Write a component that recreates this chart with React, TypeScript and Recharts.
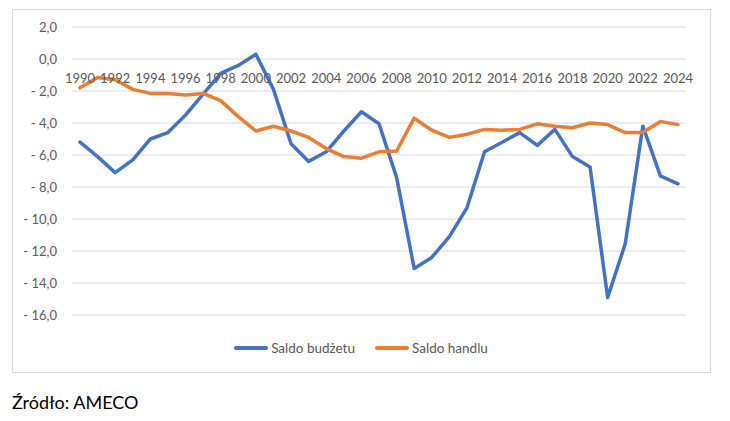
import React from 'react';
import { LineChart, Line, XAxis, YAxis, CartesianGrid } from 'recharts';

const years = [
  1990, 1991, 1992, 1993, 1994, 1995, 1996, 1997, 1998, 1999,
  2000, 2001, 2002, 2003, 2004, 2005, 2006, 2007, 2008, 2009,
  2010, 2011, 2012, 2013, 2014, 2015, 2016, 2017, 2018, 2019,
  2020, 2021, 2022, 2023, 2024,
];

const saldoBudzetu = [
  -5.2, -6.1, -7.1, -6.3, -5.0, -4.6, -3.5, -2.2, -0.9, -0.4,
  0.3, -1.9, -5.3, -6.4, -5.8, -4.5, -3.3, -4.05, -7.4, -13.1,
  -12.4, -11.1, -9.3, -5.8, -5.2, -4.6, -5.4, -4.4, -6.1, -6.75,
  -14.9, -11.55, -4.2, -7.3, -7.8,
];

const saldoHandlu = [
  -1.8, -1.15, -1.3, -1.9, -2.15, -2.15, -2.25, -2.15, -2.6, -3.6,
  -4.5, -4.2, -4.5, -4.9, -5.6, -6.1, -6.2, -5.8, -5.75, -3.7,
  -4.45, -4.9, -4.7, -4.4, -4.45, -4.4, -4.05, -4.2, -4.3, -4.0,
  -4.1, -4.6, -4.6, -3.9, -4.1,
];

const yTicks = [2, 0, -2, -4, -6, -8, -10, -12, -14, -16];

const seriesNames = ['Saldo budżetu', 'Saldo handlu'];
const seriesColors = ['#4472C4', '#ED7D31'];
const seriesKeys = ['budzet', 'handel'];

const data = years.map((y, i) => ({
  year: String(y),
  budzet: saldoBudzetu[i],
  handel: saldoHandlu[i],
}));

const FONT = 'Lato, "Liberation Sans", sans-serif';
const TEXT = '#595959';

const formatY = (v: number) => {
  const s = Math.abs(v).toFixed(1).replace('.', ',');
  return v < 0 ? '- ' + s : s;
};

const renderYearTick = (props: any) => {
  const { x, y, payload } = props;
  return (
    <text x={x} y={y + 51} dy="0.355em" textAnchor="middle" fill={TEXT} fontSize={13} fontFamily={FONT}>
      {payload.value}
    </text>
  );
};

export default function App() {
  return (
    <div style={{ position: 'absolute', left: 0, top: 0, width: 730, height: 421, background: '#fff', fontFamily: FONT }}>
      <div
        style={{
          position: 'absolute', left: 12, top: 9, width: 697, height: 362,
          border: '1px solid #d9d9d9', pointerEvents: 'none',
        }}
      />
      <div style={{ position: 'absolute', left: 12, top: 9 }}>
        <LineChart width={698} height={363} data={data} margin={{ top: 17, right: 24, bottom: 57, left: 0 }}>
          <CartesianGrid vertical={false} stroke="#d9d9d9" strokeWidth={1} />
          <XAxis
            dataKey="year"
            orientation="top"
            height={1}
            interval={1}
            axisLine={false}
            tickLine={false}
            tickSize={0}
            tickMargin={0}
            padding={{ left: 8, right: 8 }}
            tick={renderYearTick}
          />
          <YAxis
            domain={[-16, 2]}
            ticks={yTicks}
            width={60}
            axisLine={false}
            tickLine={false}
            tickSize={0}
            tickMargin={15}
            tickFormatter={formatY}
            tick={{ fill: TEXT, fontSize: 13, fontFamily: FONT }}
          />
          {seriesKeys.map((k, i) => (
            <Line
              key={k}
              type="linear"
              dataKey={k}
              name={seriesNames[i]}
              stroke={seriesColors[i]}
              strokeWidth={3.5}
              strokeLinejoin="round"
              strokeLinecap="round"
              dot={false}
              activeDot={false}
              isAnimationActive={false}
            />
          ))}
        </LineChart>
      </div>
      <div
        style={{
          position: 'absolute', left: 12, top: 338, width: 698, height: 20,
          display: 'flex', justifyContent: 'center', alignItems: 'center', gap: 20,
        }}
      >
        {seriesNames.map((n, i) => (
          <div key={n} style={{ display: 'flex', alignItems: 'center' }}>
            <div style={{ width: 34, height: 4, borderRadius: 2, background: seriesColors[i], marginRight: 3 }} />
            <span style={{ fontSize: 13.5, color: TEXT, lineHeight: '20px' }}>{n}</span>
          </div>
        ))}
      </div>
      <div style={{ position: 'absolute', left: 12, top: 393, fontSize: 18, lineHeight: 1, color: '#000', whiteSpace: 'nowrap' }}>
        Źródło: AMECO
      </div>
    </div>
  );
}
